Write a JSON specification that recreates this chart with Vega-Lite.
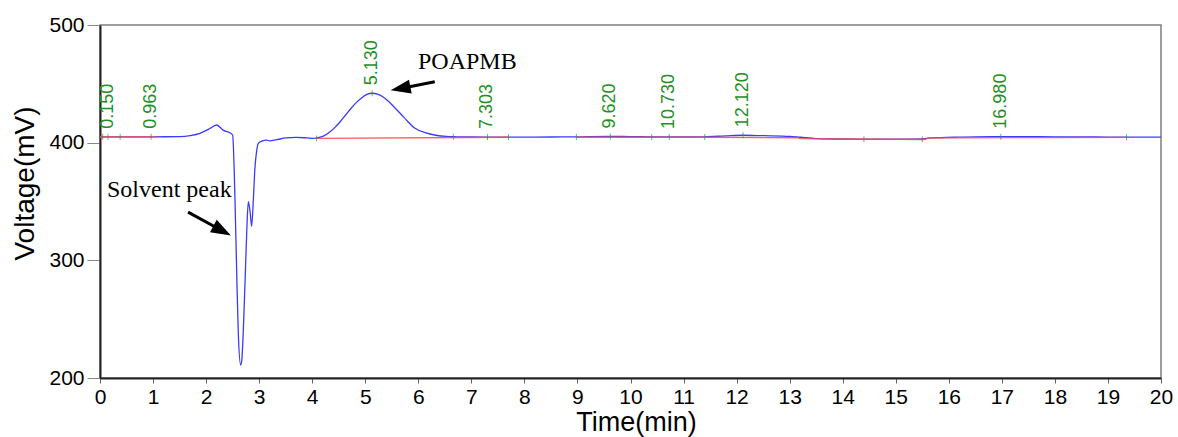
{
  "$schema": "https://vega.github.io/schema/vega-lite/v6.json",
  "width": 1061,
  "height": 353,
  "autosize": {"type": "none"},
  "padding": {"left": 100, "top": 25, "right": 17, "bottom": 59},
  "background": "white",
  "config": {
    "view": {"stroke": "#7f7f7f", "strokeWidth": 1.5},
    "font": "Liberation Sans"
  },
  "datasets": {
    "trace": [
      {"t": 0, "v": 405}, {"t": 0.5, "v": 405}, {"t": 1.0, "v": 405}, {"t": 1.51, "v": 405.2},
      {"t": 1.7, "v": 406}, {"t": 1.885, "v": 407.9}, {"t": 2.05, "v": 411.5}, {"t": 2.2, "v": 415},
      {"t": 2.32, "v": 410.7}, {"t": 2.45, "v": 408.4}, {"t": 2.5, "v": 406.5},
      {"t": 2.545, "v": 351}, {"t": 2.577, "v": 289}, {"t": 2.607, "v": 238}, {"t": 2.652, "v": 211},
      {"t": 2.67, "v": 214}, {"t": 2.733, "v": 280}, {"t": 2.765, "v": 323}, {"t": 2.796, "v": 349.8},
      {"t": 2.83, "v": 341}, {"t": 2.859, "v": 329}, {"t": 2.89, "v": 351}, {"t": 2.92, "v": 378},
      {"t": 2.95, "v": 392}, {"t": 2.985, "v": 399.4}, {"t": 3.05, "v": 401.3}, {"t": 3.14, "v": 402.2},
      {"t": 3.2, "v": 401.5}, {"t": 3.33, "v": 402.5}, {"t": 3.5, "v": 404}, {"t": 3.7, "v": 404.5},
      {"t": 3.9, "v": 404}, {"t": 4.02, "v": 403.6}, {"t": 4.13, "v": 404.4},
      {"t": 4.23, "v": 406}, {"t": 4.33, "v": 409}, {"t": 4.43, "v": 413}, {"t": 4.53, "v": 418},
      {"t": 4.63, "v": 423.5}, {"t": 4.73, "v": 429}, {"t": 4.83, "v": 434}, {"t": 4.93, "v": 438},
      {"t": 5.03, "v": 441}, {"t": 5.13, "v": 442}, {"t": 5.23, "v": 441.2}, {"t": 5.33, "v": 439},
      {"t": 5.43, "v": 435.5}, {"t": 5.53, "v": 431}, {"t": 5.73, "v": 421.5}, {"t": 5.93, "v": 412.5},
      {"t": 6.13, "v": 408.5}, {"t": 6.33, "v": 406.3}, {"t": 6.53, "v": 405.3}, {"t": 6.73, "v": 405},
      {"t": 7.0, "v": 404.8}, {"t": 7.5, "v": 404.7}, {"t": 8.0, "v": 404.7}, {"t": 8.5, "v": 404.8},
      {"t": 9.0, "v": 405}, {"t": 9.6, "v": 405.3}, {"t": 10.0, "v": 405.2}, {"t": 10.4, "v": 404.9},
      {"t": 11.0, "v": 404.8}, {"t": 11.4, "v": 405}, {"t": 11.8, "v": 405.8}, {"t": 12.12, "v": 406.3},
      {"t": 12.5, "v": 405.9}, {"t": 13.0, "v": 405.3}, {"t": 13.2, "v": 404.6}, {"t": 13.5, "v": 403.5},
      {"t": 14.0, "v": 403.1}, {"t": 14.5, "v": 403}, {"t": 15.0, "v": 403}, {"t": 15.5, "v": 403.1},
      {"t": 15.6, "v": 403.9}, {"t": 16.1, "v": 404.6}, {"t": 16.5, "v": 405}, {"t": 17.0, "v": 405.1},
      {"t": 17.5, "v": 405.1}, {"t": 18.0, "v": 405}, {"t": 18.6, "v": 404.9}, {"t": 19.0, "v": 404.7},
      {"t": 19.4, "v": 404.7}, {"t": 20, "v": 404.7}
    ],
    "base": [
      {"seg": "a", "t": 0, "v": 404.8}, {"seg": "a", "t": 1.07, "v": 405},
      {"seg": "b", "t": 4.08, "v": 403.6}, {"seg": "b", "t": 7.7, "v": 404.6},
      {"seg": "c", "t": 8.98, "v": 404.6}, {"seg": "c", "t": 10.4, "v": 404.6},
      {"seg": "d", "t": 10.4, "v": 404.6}, {"seg": "d", "t": 11.4, "v": 404.6},
      {"seg": "e", "t": 11.4, "v": 404.6}, {"seg": "e", "t": 13.15, "v": 404.2},
      {"seg": "e", "t": 13.2, "v": 403.4}, {"seg": "e", "t": 15.55, "v": 402.7},
      {"seg": "e", "t": 15.6, "v": 403.8}, {"seg": "e", "t": 16.1, "v": 404.1},
      {"seg": "e", "t": 18.0, "v": 404.3}, {"seg": "e", "t": 19.35, "v": 404.5}
    ],
    "peaks": [
      {"t": 0.15, "v": 405, "label": "0.150"},
      {"t": 0.963, "v": 405, "label": "0.963"},
      {"t": 5.13, "v": 442, "label": "5.130"},
      {"t": 7.303, "v": 404.8, "label": "7.303"},
      {"t": 9.62, "v": 405.3, "label": "9.620"},
      {"t": 10.73, "v": 404.8, "label": "10.730"},
      {"t": 12.12, "v": 406.3, "label": "12.120"},
      {"t": 16.98, "v": 405.1, "label": "16.980"}
    ],
    "marks": [
      {"t": 0.05, "v": 405}, {"t": 0.15, "v": 405}, {"t": 0.38, "v": 405}, {"t": 0.963, "v": 405},
      {"t": 4.08, "v": 403.6}, {"t": 5.13, "v": 442}, {"t": 6.66, "v": 405}, {"t": 7.303, "v": 404.8},
      {"t": 7.7, "v": 404.8}, {"t": 8.98, "v": 404.8}, {"t": 9.62, "v": 405.3}, {"t": 10.4, "v": 404.8},
      {"t": 10.73, "v": 404.8}, {"t": 11.4, "v": 404.8}, {"t": 12.12, "v": 406.3}, {"t": 14.4, "v": 403},
      {"t": 15.5, "v": 403}, {"t": 16.98, "v": 405.1}, {"t": 19.35, "v": 404.7}
    ],
    "notes": [
      {"t": 0.132, "v": 353.8, "text": "Solvent peak"},
      {"t": 5.994, "v": 462.3, "text": "POAPMB"}
    ],
    "arrows": [
      {"t": 1.66, "v": 341, "t2": 2.302, "v2": 325.1, "angle": 118.7},
      {"t": 6.31, "v": 451.7, "t2": 5.665, "v2": 446.1, "angle": 259}
    ]
  },
  "layer": [
    {
      "data": {"name": "trace"},
      "mark": {"type": "line", "color": "#3b3bff", "strokeWidth": 1.3, "interpolate": "monotone"},
      "encoding": {
        "x": {
          "field": "t", "type": "quantitative",
          "scale": {"domain": [0, 20], "nice": false, "zero": false},
          "axis": {
            "title": "Time(min)",
            "values": [0,0.25,0.5,0.75,1,1.25,1.5,1.75,2,2.25,2.5,2.75,3,3.25,3.5,3.75,4,4.25,4.5,4.75,5,5.25,5.5,5.75,6,6.25,6.5,6.75,7,7.25,7.5,7.75,8,8.25,8.5,8.75,9,9.25,9.5,9.75,10,10.25,10.5,10.75,11,11.25,11.5,11.75,12,12.25,12.5,12.75,13,13.25,13.5,13.75,14,14.25,14.5,14.75,15,15.25,15.5,15.75,16,16.25,16.5,16.75,17,17.25,17.5,17.75,18,18.25,18.5,18.75,19,19.25,19.5,19.75,20],
            "labelExpr": "datum.value % 1 === 0 ? format(datum.value, 'd') : ''",
            "grid": false,
            "domainColor": "#222222", "domainWidth": 2,
            "tickColor": "#666666", "tickSize": 5, "tickWidth": 1,
            "labelFont": "Liberation Sans", "labelFontSize": 21, "labelColor": "#000000",
            "labelPadding": 3, "labelOverlap": false, "labelFlush": false,
            "titleFont": "Liberation Sans", "titleFontSize": 27, "titleFontWeight": "normal",
            "titleColor": "#000000", "titleX": 536, "titleY": 52,
            "titleBaseline": "alphabetic", "titleAlign": "center"
          }
        },
        "y": {
          "field": "v", "type": "quantitative",
          "scale": {"domain": [200, 500], "nice": false, "zero": false},
          "axis": {
            "title": "Voltage(mV)",
            "values": [200, 300, 400, 500],
            "grid": false,
            "domainColor": "#222222", "domainWidth": 2,
            "tickColor": "#888888", "tickSize": 13, "tickWidth": 1,
            "labelFont": "Liberation Sans", "labelFontSize": 21, "labelColor": "#000000",
            "labelPadding": 3,
            "titleFont": "Liberation Sans", "titleFontSize": 28, "titleFontWeight": "normal",
            "titleColor": "#000000", "titleX": -67, "titleY": 158,
            "titleAngle": 270, "titleBaseline": "alphabetic", "titleAlign": "center"
          }
        }
      }
    },
    {
      "data": {"name": "base"},
      "mark": {"type": "line", "color": "#ff4a4a", "strokeWidth": 1.3, "opacity": 0.9},
      "encoding": {
        "x": {"field": "t", "type": "quantitative"},
        "y": {"field": "v", "type": "quantitative"},
        "detail": {"field": "seg"}
      }
    },
    {
      "data": {"name": "marks"},
      "mark": {"type": "tick", "orient": "vertical", "size": 6, "thickness": 1, "color": "#2a962a"},
      "encoding": {
        "x": {"field": "t", "type": "quantitative"},
        "y": {"field": "v", "type": "quantitative"}
      }
    },
    {
      "data": {"name": "peaks"},
      "mark": {"type": "text", "angle": 270, "align": "left", "baseline": "middle", "dx": 8,
               "font": "Liberation Sans", "fontSize": 18, "color": "#1f8f1f"},
      "encoding": {
        "x": {"field": "t", "type": "quantitative"},
        "y": {"field": "v", "type": "quantitative"},
        "text": {"field": "label"}
      }
    },
    {
      "data": {"name": "arrows"},
      "mark": {"type": "rule", "color": "#000000", "strokeWidth": 3},
      "encoding": {
        "x": {"field": "t", "type": "quantitative"},
        "y": {"field": "v", "type": "quantitative"},
        "x2": {"field": "t2"},
        "y2": {"field": "v2"}
      }
    },
    {
      "data": {"name": "arrows"},
      "mark": {"type": "point", "shape": "M0,-1L0.7,1L-0.7,1Z", "filled": true, "color": "#000000", "opacity": 1, "size": 400},
      "encoding": {
        "x": {"field": "t2", "type": "quantitative"},
        "y": {"field": "v2", "type": "quantitative"},
        "angle": {"field": "angle", "type": "quantitative", "scale": null}
      }
    },
    {
      "data": {"name": "notes"},
      "mark": {"type": "text", "align": "left", "baseline": "alphabetic", "font": "Liberation Serif", "fontSize": 24, "color": "#000000"},
      "encoding": {
        "x": {"field": "t", "type": "quantitative"},
        "y": {"field": "v", "type": "quantitative"},
        "text": {"field": "text"}
      }
    }
  ]
}
